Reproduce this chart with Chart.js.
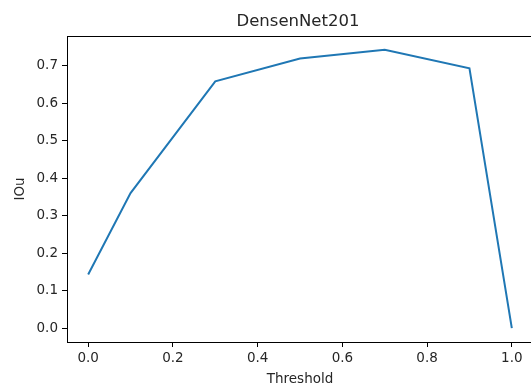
<!DOCTYPE html>
<html>
<head>
<meta charset="utf-8">
<script src="https://cdn.jsdelivr.net/npm/chart.js@4/dist/chart.umd.min.js"></script>
<style>
  html, body { margin: 0; padding: 0; background: #fff; overflow: hidden; }
  #wrap { width: 531px; height: 388px; overflow: hidden; }
</style>
</head>
<body>
<div id="wrap"><canvas id="myChart" width="596" height="388"></canvas></div>
<script>
// data
var thresholds = [0.0, 0.1, 0.3, 0.5, 0.7, 0.9, 1.0];
var iouValues = [0.143, 0.360, 0.658, 0.719, 0.742, 0.693, 0.0];
var xTicks = [0.0, 0.2, 0.4, 0.6, 0.8, 1.0];
var yTicks = [0.0, 0.1, 0.2, 0.3, 0.4, 0.5, 0.6, 0.7];
var chartTitle = "DensenNet201";

var points = thresholds.map(function (t, i) { return {x: t, y: iouValues[i]}; });

var textColor = "#262626";
var fontFamily = "'DejaVu Sans', sans-serif";

// box around the plot like matplotlib's spines, plus the title
var frame = {
  id: "frame",
  afterDraw: function (chart) {
    var a = chart.chartArea, ctx = chart.ctx;
    ctx.save();
    ctx.strokeStyle = "#000";
    ctx.lineWidth = 1;
    ctx.strokeRect(Math.round(a.left) + 0.5, Math.round(a.top) + 0.5,
                   Math.round(a.right - a.left), Math.round(a.bottom - a.top));
    // title sits over the full (uncropped) axes width
    ctx.fillStyle = textColor;
    ctx.font = "16.5px " + fontFamily;
    ctx.textAlign = "center";
    ctx.textBaseline = "middle";
    ctx.fillText(chartTitle, chart.width / 2, 22);
    ctx.restore();
  }
};

new Chart("myChart", {
  type: "line",
  data: {
    datasets: [{
      data: points,
      borderColor: "#1f77b4",
      borderWidth: 2,
      pointRadius: 0,
      fill: false,
      tension: 0
    }]
  },
  plugins: [frame],
  options: {
    responsive: false,
    animation: false,
    devicePixelRatio: 1,
    layout: {padding: {left: 0, right: 63, top: 36, bottom: 0}},
    plugins: {
      legend: {display: false},
      tooltip: {enabled: false},
      title: {display: false}
    },
    scales: {
      x: {
        type: "linear",
        min: -0.05,
        max: 1.05,
        afterBuildTicks: function (s) { s.ticks = xTicks.map(function (v) { return {value: v}; }); },
        afterFit: function (s) { s.height = 46; },
        ticks: {
          color: textColor,
          font: {family: fontFamily, size: 13.5},
          padding: 3,
          maxRotation: 0,
          callback: function (v) { return v.toFixed(1); }
        },
        grid: {display: true, drawOnChartArea: false, drawTicks: true, tickLength: 5, color: "#000"},
        border: {display: false},
        title: {
          display: true,
          text: "Threshold",
          color: textColor,
          font: {family: fontFamily, size: 13.5},
          padding: {top: 0, bottom: 0}
        }
      },
      y: {
        min: -0.037,
        max: 0.779,
        afterBuildTicks: function (s) { s.ticks = yTicks.map(function (v) { return {value: v}; }); },
        afterFit: function (s) { s.width = 67; },
        ticks: {
          color: textColor,
          font: {family: fontFamily, size: 13.5},
          padding: 4,
          callback: function (v) { return v.toFixed(1); }
        },
        grid: {display: true, drawOnChartArea: false, drawTicks: true, tickLength: 5, color: "#000"},
        border: {display: false},
        title: {
          display: true,
          text: "IOu",
          color: textColor,
          font: {family: fontFamily, size: 13.5},
          padding: {top: 12, bottom: 0}
        }
      }
    }
  }
});
</script>
</body>
</html>
